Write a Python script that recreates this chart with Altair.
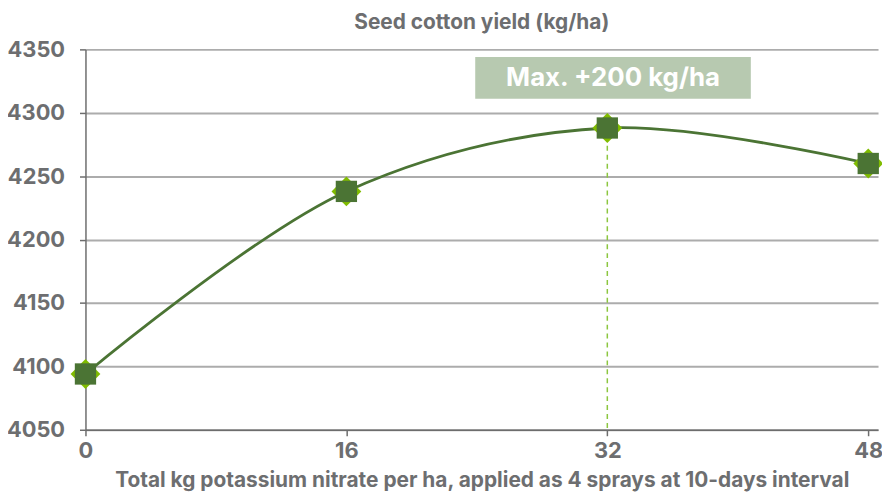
import altair as alt
import pandas as pd

doses = [0, 16, 32, 48]
yields = [4094, 4238, 4288, 4260]
y_ticks = [4050, 4100, 4150, 4200, 4250, 4300, 4350]
x_ticks = [0, 16, 32, 48]
max_dose = [32]
max_yield = [4288]
box_x = [23.9]
box_x2 = [40.8]
box_y = [4344]
box_y2 = [4311]
label_text = ["Max. +200 kg/ha"]

df = pd.DataFrame({"dose": doses, "yield": yields})
df_max = pd.DataFrame({"dose": max_dose, "yield": max_yield, "base": [y_ticks[0]]})
df_box = pd.DataFrame({"x": box_x, "x2": box_x2, "y": box_y, "y2": box_y2,
                       "xm": [(box_x[0] + box_x2[0]) / 2], "ym": [(box_y[0] + box_y2[0]) / 2],
                       "t": label_text})

FONT = "Inter"
GRAY = "#6d6e70"

xscale = alt.Scale(domain=[0, 48.6], nice=False, zero=False)
yscale = alt.Scale(domain=[4050, 4350], nice=False, zero=False)

xaxis = alt.Axis(values=x_ticks, title="Total kg potassium nitrate per ha, applied as 4 sprays at 10-days interval",
                 grid=False, labelFontSize=22, labelFont=FONT, labelFontWeight="bold", labelColor=GRAY,
                 titleFontSize=21, titleFont=FONT, titleFontWeight="bold", titleColor=GRAY,
                 domainColor="#6d6d6d", domainWidth=1.5, tickColor="#6d6d6d", tickWidth=1.5, tickSize=6,
                 labelPadding=5, titlePadding=8, format="d", labelFlush=False)
yaxis = alt.Axis(values=y_ticks, title=None, grid=True, gridColor="#acacac", gridWidth=2,
                 labelFontSize=22, labelFont=FONT, labelFontWeight="bold", labelColor=GRAY,
                 domainColor="#6d6d6d", domainWidth=1.5, tickColor="#6d6d6d", tickWidth=1.5, tickSize=6,
                 labelPadding=15, format="d", labelFlush=False)

base = alt.Chart(df)

line = base.mark_line(interpolate="catmull-rom", color="#4b7434", strokeWidth=2.8).encode(
    x=alt.X("dose:Q", scale=xscale, axis=xaxis),
    y=alt.Y("yield:Q", scale=yscale, axis=yaxis),
)

rule = alt.Chart(df_max).mark_rule(color="#8cc63f", strokeWidth=1.5, strokeDash=[5, 4]).encode(
    x=alt.X("dose:Q", scale=xscale), y=alt.Y("yield:Q", scale=yscale), y2="base:Q"
)

diamonds = base.mark_point(shape="diamond", filled=True, color="#80bc00", opacity=1, size=900).encode(
    x=alt.X("dose:Q", scale=xscale), y=alt.Y("yield:Q", scale=yscale)
)
squares = base.mark_point(shape="square", filled=True, color="#4b7434", opacity=1, size=460).encode(
    x=alt.X("dose:Q", scale=xscale), y=alt.Y("yield:Q", scale=yscale)
)

box = alt.Chart(df_box).mark_rect(color="#b7c9b0").encode(
    x=alt.X("x:Q", scale=xscale), x2="x2:Q", y=alt.Y("y:Q", scale=yscale), y2="y2:Q"
)
boxtext = alt.Chart(df_box).mark_text(color="white", font=FONT, fontWeight="bold", fontSize=26,
                                      align="center", baseline="middle").encode(
    x=alt.X("xm:Q", scale=xscale), y=alt.Y("ym:Q", scale=yscale), text="t:N"
)

chart = alt.layer(rule, box, boxtext, line, diamonds, squares).properties(
    width=798, height=383,
    title=alt.Title("Seed cotton yield (kg/ha)", font=FONT, fontSize=21, fontWeight="bold", color=GRAY,
                    anchor="middle", offset=6),
    autosize=alt.AutoSizeParams(type="none"),
    padding={"left": 78, "top": 40, "right": 4, "bottom": 62},
).configure_view(stroke=None)

chart.save("out.html", embed_options={"renderer": "svg", "actions": False})
